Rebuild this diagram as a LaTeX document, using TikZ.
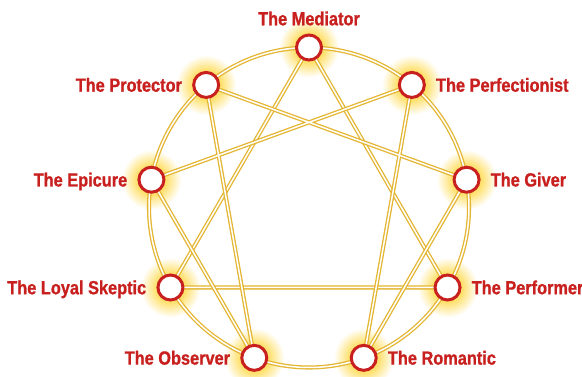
\documentclass[tikz,border=0pt]{standalone}
\usepackage{fontspec}
\setmainfont{Liberation Sans}[FakeStretch=0.86,BoldFeatures={FakeBold=1}]
\usepackage{tikz}
\usetikzlibrary{positioning,calc,backgrounds}
\definecolor{PointRed}{HTML}{C8201E}
\definecolor{LineGold}{HTML}{E4B531}
\definecolor{GlowYellow}{HTML}{FFE06A}
\pgfdeclareradialshading{glowshade}{\pgfpoint{0bp}{0bp}}{%
  color(0bp)=(GlowYellow); color(12bp)=(GlowYellow); color(25bp)=(white); color(50bp)=(white)}
\tikzset{
  % point of the figure
  PT/.style={circle,minimum size=25pt,inner sep=0pt,
             draw=PointRed,line width=3pt,fill=white},
  % glow behind a point
  GL/.style={shading=glowshade},
  % gold double line
  ln/.style={draw=LineGold,line width=1.3pt,double=white,
             double distance=1.5pt},
  % label text
  LB/.style={font=\bfseries\fontsize{19}{21}\selectfont,text=PointRed,
             inner sep=0pt,text height=13.5pt,text depth=0pt}
}
\begin{document}
\begin{tikzpicture}[x=1pt,y=1pt,label distance=10pt]
  \useasboundingbox (0,0) rectangle (582,377);
  \coordinate (C) at (309,169.5);
  \node[PT,label={[LB,label distance=8pt]above:The Mediator}] (med)   at ($(C)+(90:160)$)  {};
  \node[PT,label={[LB]right:The Perfectionist}]               (perf)  at ($(C)+(50:160)$)  {};
  \node[PT,label={[LB]right:The Giver}]                       (giver) at ($(C)+(10:160)$)  {};
  \node[PT,label={[LB]right:The Performer}]                   (perfm) at ($(C)+(-30:160)$) {};
  \node[PT,label={[LB]right:The Romantic}]                    (rom)   at ($(C)+(-70:160)$) {};
  \node[PT,label={[LB]left:The Observer}]                     (obs)   at ($(C)+(-110:160)$) {};
  \node[PT,label={[LB]left:The Loyal Skeptic}]                (skep)  at ($(C)+(-150:160)$) {};
  \node[PT,label={[LB]left:The Epicure}]                      (epi)   at ($(C)+(170:160)$) {};
  \node[PT,label={[LB]left:The Protector}]                    (prot)  at ($(C)+(130:160)$) {};
  \begin{scope}[on background layer]
    \fill[white] (0,0) rectangle (582,377);
    \shade[GL] (med.center)   circle (30);
    \shade[GL] (perf.center)  circle (30);
    \shade[GL] (giver.center) circle (30);
    \shade[GL] (perfm.center) circle (30);
    \shade[GL] (rom.center)   circle (30);
    \shade[GL] (obs.center)   circle (30);
    \shade[GL] (skep.center)  circle (30);
    \shade[GL] (epi.center)   circle (30);
    \shade[GL] (prot.center)  circle (30);
    \draw[ln] (C) circle (160);
    % triangle
    \draw[ln] (med.center) -- (perfm.center) -- (skep.center) -- cycle;
    % hexad
    \draw[ln] (perf.center) -- (rom.center) -- (giver.center) -- (prot.center)
              -- (obs.center) -- (epi.center) -- cycle;
  \end{scope}
\end{tikzpicture}
\end{document}
